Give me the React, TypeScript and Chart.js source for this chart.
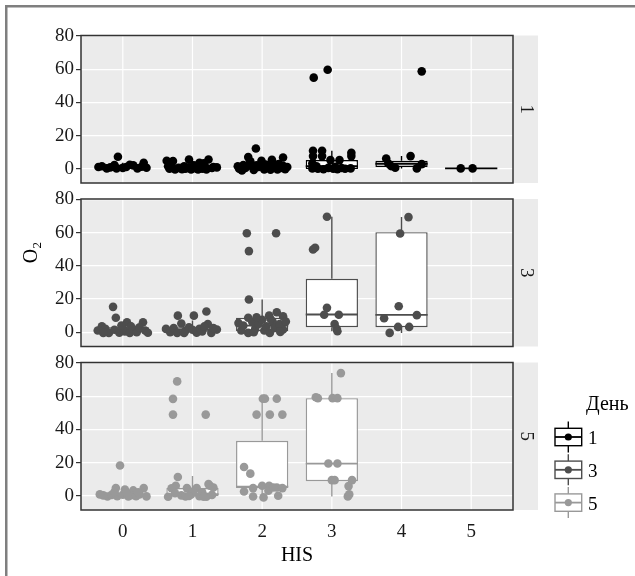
import React, { useEffect, useRef } from 'react';
import { Chart, registerables } from 'chart.js';

Chart.register(...registerables);

const FONT = "'Liberation Serif', 'DejaVu Serif', serif";

const HIS_LABELS = ['0', '1', '2', '3', '4', '5'];
const DAY_LABELS = ['1', '3', '5'];
const DAY_COLORS = ['#000000', '#4d4d4d', '#999999'];
const Y_TICKS = [0, 20, 40, 60, 80];
const X_TITLE = 'HIS';
const Y_TITLE_MAIN = 'O';
const Y_TITLE_SUB = '2';
const LEGEND_TITLE = 'День';

// panel value range
const PANEL_MIN = -8.6;
const PANEL_MAX = 80.3;

// box stats: [his, q1, median, q3, whiskerLow, whiskerHigh]
const day1Boxes = [
  [0, 0, 1, 2.5, 0, 3.6],
  [1, -0.3, 0.4, 1.6, -0.5, 4.8],
  [2, -0.4, 1, 3, -1, 7],
  [3, -0.2, 1.5, 5.2, -0.3, 10.8],
  [4, 1.1, 3, 4.8, 0.2, 7.6],
  [5, 0, 0.2, 0.4, 0.2, 0.2],
];
const day3Boxes = [
  [0, 0, 1, 3, -0.5, 6],
  [1, 0, 1.5, 3, -0.5, 7],
  [2, 0.6, 4, 8.7, -0.5, 19.7],
  [3, 3, 10.7, 32.2, 0.6, 69.6],
  [4, 3, 10.5, 60.3, -0.4, 69.4],
];
const day5Boxes = [
  [0, 0, 0.3, 1, -0.5, 2.2],
  [1, -0.3, 1, 4.6, -0.6, 11.9],
  [2, 4.6, 5.5, 33.1, -1, 58.5],
  [3, 8.8, 19.4, 58.8, -0.4, 73.9],
];

// jittered points: [his, jitter, value]
const day1Points = [
  [0, -0.23, 0.2], [0, -0.07, 7.2], [0, -0.09, 0.2], [0, 0.21, 0.2], [0, 0.3, 3.6], [0, -0.3, 1.5], [0, 0.05, 1], [0, 0.15, 2],
  [0, -0.35, 1], [0, -0.18, 0.8], [0, -0.12, 2.2], [0, 0, 0.5], [0, 0.1, 2.4], [0, 0.27, 1.2], [0, 0.34, 0.6],
  [1, -0.37, 4.8], [1, -0.28, 4.6], [1, -0.05, 5.6], [1, 0.1, 3.6], [1, 0.23, 5.6], [1, 0.16, 3.2], [1, 0.28, 0.4], [1, -0.33, 0],
  [1, -0.25, -0.5], [1, -0.2, 0.5], [1, -0.15, -0.3], [1, -0.1, 0], [1, -0.02, -0.5], [1, 0.04, 0.3], [1, 0.08, -0.4], [1, 0.14, 0],
  [1, 0.2, -0.5], [1, 0.3, 1], [1, -0.35, 1.5], [1, 0.02, 2],
  [1, -0.3, 1.2], [1, -0.12, 1.4], [1, 0.06, 1.2], [1, 0.18, 1.5], [1, 0.35, 0.8], [1, -0.05, 0.8],
  [2, -0.09, 12.2], [2, -0.2, 7], [2, -0.17, 4.5], [2, -0.01, 4.8], [2, 0.14, 5.4], [2, 0.3, 6.8], [2, -0.27, 2.2], [2, -0.33, 0],
  [2, -0.29, -1], [2, -0.24, 0.5], [2, -0.12, -0.8], [2, -0.05, 1], [2, 0.03, -0.5], [2, 0.08, 0.8], [2, 0.12, -0.6], [2, 0.18, 1.2],
  [2, 0.22, -0.4], [2, 0.27, 0.5], [2, 0.33, -0.3], [2, -0.15, 2], [2, 0.05, 2.5], [2, 0.24, 2.8],
  [2, -0.35, 1.5], [2, -0.2, 1.8], [2, -0.08, 2], [2, 0.1, 2.2], [2, 0.2, 2.4], [2, 0.3, 1.8], [2, 0.36, 1],
  [3, -0.26, 54.9], [3, -0.06, 59.7], [3, -0.27, 10.8], [3, -0.14, 10.8], [3, 0.28, 9.6], [3, -0.27, 7.6], [3, -0.14, 7.6], [3, 0.28, 7.6],
  [3, -0.02, 5.2], [3, 0.11, 5.2], [3, 0.27, 0.2], [3, -0.28, 3.2], [3, -0.28, 0.2], [3, -0.2, 0], [3, -0.12, -0.3], [3, -0.05, 0.5],
  [3, 0.02, 0], [3, 0.08, -0.3], [3, 0.14, 0.4], [3, 0.19, 0], [3, -0.22, 1.5], [3, 0.05, 1.2],
  [4, -0.22, 6.2], [4, -0.19, 3.2], [4, -0.09, 0.6], [4, 0.13, 7.6], [4, 0.22, 0.2], [4, 0.29, 2.8], [4, 0.29, 58.7], [4, -0.15, 1.6],
  [5, -0.15, 0.2], [5, 0.02, 0.2],
];
const day3Points = [
  [0, -0.14, 15.3], [0, -0.1, 8.7], [0, 0.06, 6], [0, 0.29, 6], [0, -0.3, 3.6], [0, -0.36, 1], [0, -0.25, 2], [0, -0.2, -0.5],
  [0, -0.12, 1.5], [0, -0.05, -0.3], [0, 0, 2.5], [0, 0.03, 0.5], [0, 0.1, -0.5], [0, 0.15, 1.8], [0, 0.2, 0], [0, 0.24, 3],
  [0, 0.32, 1], [0, 0.36, -0.3], [0, -0.28, -0.4], [0, 0.12, 3.5], [0, -0.02, 4],
  [1, -0.21, 10], [1, 0.02, 10], [1, 0.2, 12.5], [1, -0.16, 5.3], [1, 0.22, 5], [1, 0.35, 1.6], [1, -0.38, 2], [1, -0.32, 0],
  [1, -0.27, 2.5], [1, -0.22, -0.4], [1, -0.1, 1], [1, -0.05, 3], [1, 0.06, -0.3], [1, 0.1, 2], [1, 0.14, 0.5], [1, 0.27, -0.4],
  [1, 0.3, 2.5], [1, -0.12, -0.5], [1, 0, 1.5], [1, 0.17, 3.5],
  [2, -0.22, 59.7], [2, -0.19, 48.9], [2, 0.2, 59.7], [2, -0.19, 19.7], [2, 0.21, 12], [2, -0.2, 8.7], [2, 0.1, 10], [2, 0.3, 9.6],
  [2, -0.2, -0.4], [2, 0.11, -0.5], [2, 0.3, 1.6], [2, -0.3, 1], [2, -0.27, 4], [2, -0.14, 6], [2, -0.1, 2], [2, -0.05, 5],
  [2, 0, 7.5], [2, 0.03, 1], [2, 0.06, 3.5], [2, 0.15, 6.5], [2, 0.18, 2.5], [2, 0.25, 5], [2, 0.34, 6.5], [2, -0.34, 5.5],
  [2, -0.08, 9], [2, 0.12, 8], [2, 0.26, 0.2], [2, -0.12, 0],
  [3, -0.07, 69.6], [3, -0.27, 49.9], [3, -0.24, 50.9], [3, -0.07, 14.7], [3, -0.11, 10.5], [3, 0.1, 10.5], [3, 0.04, 5], [3, 0.07, 2], [3, 0.08, 0.6],
  [4, 0.1, 69.4], [4, -0.02, 59.5], [4, -0.04, 15.7], [4, -0.25, 8.4], [4, 0.22, 10.3], [4, -0.17, -0.4], [4, -0.05, 3.2], [4, 0.11, 3.2],
];
const day5Points = [
  [0, -0.04, 18.2], [0, -0.1, 4.6], [0, 0.03, 3.8], [0, 0.15, 3.2], [0, 0.3, 4.6], [0, -0.28, 0.2], [0, -0.22, -0.5], [0, -0.16, 0.5],
  [0, -0.08, -0.3], [0, 0, 0.6], [0, 0.08, -0.5], [0, 0.12, 0.3], [0, 0.19, -0.3], [0, 0.24, 0.8], [0, 0.34, -0.4], [0, -0.33, 0.8],
  [0, 0.05, 1.8], [0, -0.12, 2.2], [0, 0.22, 2],
  [1, -0.22, 68.9], [1, -0.28, 58.4], [1, -0.28, 48.9], [1, 0.19, 48.9], [1, -0.21, 11.3], [1, -0.24, 6], [1, 0.25, 6], [1, -0.3, 4.5],
  [1, 0.23, 7], [1, 0.3, 5], [1, -0.08, 4.6], [1, 0.06, 4.6], [1, -0.16, 0.2], [1, -0.35, -0.6], [1, 0.2, -0.6], [1, -0.1, -0.5],
  [1, -0.02, 0.8], [1, 0.1, -0.3], [1, 0.14, 2], [1, -0.25, 1.5], [1, 0.01, 2.5], [1, 0.28, 0.5], [1, -0.05, -0.2], [1, 0.16, -0.6],
  [2, 0.01, 58.5], [2, 0.04, 58.5], [2, 0.21, 58.5], [2, -0.08, 48.9], [2, 0.11, 48.9], [2, 0.29, 48.9], [2, -0.26, 17.3], [2, -0.17, 13.3],
  [2, -0.26, 2.6], [2, -0.13, 4.6], [2, -0.13, -0.5], [2, 0, 6], [2, 0.02, -1], [2, 0.1, 6], [2, 0.09, 3], [2, 0.21, 5],
  [2, 0.23, 0], [2, 0.29, 4.6], [2, 0.16, 5],
  [3, 0.13, 73.9], [3, -0.23, 59.4], [3, -0.2, 58.8], [3, 0.01, 58.8], [3, 0.08, 58.8], [3, -0.05, 19.4], [3, 0.08, 19.4], [3, 0, 9.4],
  [3, 0.04, 9.4], [3, 0.29, 9.4], [3, 0.24, 5.8], [3, 0.23, -0.4], [3, 0.25, 0.8],
];

const FACETS = [
  { id: 'y1', boxes: day1Boxes, points: day1Points },
  { id: 'y3', boxes: day3Boxes, points: day3Points },
  { id: 'y5', boxes: day5Boxes, points: day5Points },
];

const W = 635;
const H = 576;
const GAP_PX = 8;
const PANEL_PX = 147.5;
const GAP_UNITS = ((PANEL_MAX - PANEL_MIN) * GAP_PX) / PANEL_PX;

function panelRect(chart: any, id: string) {
  const ys = chart.scales[id];
  const ca = chart.chartArea;
  const top = ys.getPixelForValue(PANEL_MAX);
  const bottom = ys.getPixelForValue(PANEL_MIN);
  return { left: ca.left, right: ca.right, top, bottom };
}

const facetPlugin = {
  id: 'facetPlugin',
  beforeDraw(chart: any) {
    const ctx = chart.ctx;
    const xs = chart.scales.x;
    ctx.save();
    ctx.strokeStyle = '#7f7f7f';
    ctx.lineWidth = 2.5;
    ctx.strokeRect(6.25, 6.25, W + 50, H + 50);
    FACETS.forEach((f) => {
      const r = panelRect(chart, f.id);
      ctx.fillStyle = '#ebebeb';
      ctx.fillRect(r.left, r.top, r.right - r.left, r.bottom - r.top);
      ctx.fillRect(r.right, r.top, 25, r.bottom - r.top);
      ctx.strokeStyle = '#ffffff';
      ctx.lineWidth = 1.2;
      HIS_LABELS.forEach((_, i) => {
        const px = xs.getPixelForValue(i);
        ctx.beginPath();
        ctx.moveTo(px, r.top);
        ctx.lineTo(px, r.bottom);
        ctx.stroke();
      });
    });
    ctx.restore();
  },
  beforeDatasetsDraw(chart: any) {
    const ctx = chart.ctx;
    const xs = chart.scales.x;
    ctx.save();
    FACETS.forEach((f, di) => {
      const ys = chart.scales[f.id];
      ctx.strokeStyle = DAY_COLORS[di];
      ctx.lineWidth = 1.4;
      f.boxes.forEach(([h, q1, , q3, lo, hi]) => {
        const px = xs.getPixelForValue(h);
        ctx.beginPath();
        ctx.moveTo(px, ys.getPixelForValue(q3));
        ctx.lineTo(px, ys.getPixelForValue(hi));
        ctx.moveTo(px, ys.getPixelForValue(q1));
        ctx.lineTo(px, ys.getPixelForValue(lo));
        ctx.stroke();
      });
    });
    ctx.restore();
  },
  afterDatasetDraw(chart: any, args: any) {
    const ds = chart.data.datasets[args.index];
    if (ds.type !== 'bar') return;
    const f = FACETS[ds.facet];
    const ctx = chart.ctx;
    const xs = chart.scales.x;
    const ys = chart.scales[f.id];
    const half = (xs.getPixelForValue(1) - xs.getPixelForValue(0)) * 0.375;
    ctx.save();
    ctx.strokeStyle = DAY_COLORS[ds.facet];
    ctx.lineWidth = 1.8;
    f.boxes.forEach(([h, , med]) => {
      const px = xs.getPixelForValue(h);
      const py = ys.getPixelForValue(med);
      ctx.beginPath();
      ctx.moveTo(px - half, py);
      ctx.lineTo(px + half, py);
      ctx.stroke();
    });
    ctx.restore();
  },
  afterDraw(chart: any) {
    const ctx = chart.ctx;
    ctx.save();
    FACETS.forEach((f, di) => {
      const r = panelRect(chart, f.id);
      ctx.strokeStyle = '#333333';
      ctx.lineWidth = 1.5;
      ctx.strokeRect(r.left, r.top, r.right - r.left, r.bottom - r.top);
      ctx.save();
      ctx.translate(r.right + 12.5, (r.top + r.bottom) / 2);
      ctx.rotate(Math.PI / 2);
      ctx.fillStyle = '#1a1a1a';
      ctx.font = `19px ${FONT}`;
      ctx.textAlign = 'center';
      ctx.textBaseline = 'middle';
      ctx.fillText(DAY_LABELS[di], 0, 0);
      ctx.restore();
    });
    const ca = chart.chartArea;
    ctx.fillStyle = '#000000';
    ctx.font = `20px ${FONT}`;
    ctx.textAlign = 'center';
    ctx.textBaseline = 'alphabetic';
    ctx.fillText(X_TITLE, (ca.left + ca.right) / 2, 560.5);
    ctx.save();
    ctx.translate(37, 256);
    ctx.rotate(-Math.PI / 2);
    ctx.font = `20px ${FONT}`;
    ctx.textAlign = 'center';
    ctx.textBaseline = 'alphabetic';
    ctx.fillText(Y_TITLE_MAIN, 0, 0);
    ctx.font = `13px ${FONT}`;
    ctx.textAlign = 'left';
    ctx.fillText(Y_TITLE_SUB, 7.5, 4);
    ctx.restore();
    ctx.font = `20px ${FONT}`;
    ctx.textAlign = 'left';
    ctx.textBaseline = 'alphabetic';
    ctx.fillStyle = '#000000';
    ctx.fillText(LEGEND_TITLE, 586, 410);
    DAY_LABELS.forEach((lab, i) => {
      const cy = 437 + i * 32.8;
      const cx = 568.3;
      const col = DAY_COLORS[i];
      ctx.strokeStyle = col;
      ctx.lineWidth = 1.4;
      ctx.beginPath();
      ctx.moveTo(cx, cy - 15.5);
      ctx.lineTo(cx, cy - 8.7);
      ctx.moveTo(cx, cy + 8.7);
      ctx.lineTo(cx, cy + 15.5);
      ctx.stroke();
      ctx.fillStyle = '#ffffff';
      ctx.fillRect(555, cy - 8.7, 26.7, 17.4);
      ctx.strokeRect(555, cy - 8.7, 26.7, 17.4);
      ctx.lineWidth = 1.8;
      ctx.beginPath();
      ctx.moveTo(555, cy);
      ctx.lineTo(581.7, cy);
      ctx.stroke();
      ctx.fillStyle = col;
      ctx.beginPath();
      ctx.arc(cx, cy, 3.6, 0, Math.PI * 2);
      ctx.fill();
      ctx.fillStyle = '#000000';
      ctx.font = `19px ${FONT}`;
      ctx.textBaseline = 'middle';
      ctx.fillText(lab, 588, cy + 2);
    });
    ctx.restore();
  },
};

function yScale() {
  return {
    type: 'linear',
    position: 'left',
    stack: 'facet',
    stackWeight: 1,
    offset: false,
    min: PANEL_MIN - GAP_UNITS,
    max: PANEL_MAX + GAP_UNITS,
    afterBuildTicks: (s: any) => {
      s.ticks = Y_TICKS.map((v) => ({ value: v }));
    },
    afterFit: (s: any) => {
      s.width = 81;
    },
    grid: { color: '#ffffff', lineWidth: 1.2, tickColor: '#333333', tickLength: 5, drawTicks: true },
    border: { display: false },
    ticks: { font: { family: FONT, size: 19 }, color: '#1a1a1a', padding: 2, autoSkip: false },
  };
}

export default function App() {
  const ref = useRef<HTMLCanvasElement>(null);
  useEffect(() => {
    if (!ref.current) return;
    const datasets: any[] = [];
    FACETS.forEach((f, di) => {
      datasets.push({
        type: 'bar',
        facet: di,
        yAxisID: f.id,
        xAxisID: 'x',
        data: f.boxes.map(([h, q1, , q3]) => ({ x: h, y: [q1, q3] })),
        backgroundColor: '#ffffff',
        borderColor: DAY_COLORS[di],
        borderWidth: 1.4,
        borderSkipped: false,
        grouped: false,
        barPercentage: 0.75,
        categoryPercentage: 1,
        maxBarThickness: 52.3,
        order: 2,
      });
    });
    FACETS.forEach((f, di) => {
      datasets.push({
        type: 'scatter',
        facet: di,
        yAxisID: f.id,
        xAxisID: 'x',
        data: f.points.map(([h, j, v]) => ({ x: h + j, y: v })),
        pointRadius: 4.3,
        pointBackgroundColor: DAY_COLORS[di],
        pointBorderWidth: 0,
        order: 1,
      });
    });
    const chart = new Chart(ref.current, {
      type: 'scatter',
      data: { datasets },
      options: {
        animation: false,
        responsive: false,
        devicePixelRatio: 1,
        events: [],
        layout: { padding: { left: 0, right: 122, top: 27.5, bottom: 0 } },
        plugins: { legend: { display: false }, tooltip: { enabled: false } },
        scales: {
          x: {
            type: 'linear',
            position: 'bottom',
            offset: false,
            min: -0.6,
            max: 5.6,
            afterBuildTicks: (s: any) => {
              s.ticks = HIS_LABELS.map((_, i) => ({ value: i }));
            },
            afterFit: (s: any) => {
              s.height = 58;
            },
            grid: { display: false, drawTicks: false, tickLength: 0, offset: false },
            border: { display: false },
            ticks: {
              font: { family: FONT, size: 19 },
              color: '#1a1a1a',
              padding: 3,
              maxRotation: 0,
              autoSkip: false,
              callback: (_v: any, i: number) => HIS_LABELS[i],
            },
          },
          y5: yScale(),
          y3: yScale(),
          y1: yScale(),
        } as any,
      },
      plugins: [facetPlugin],
    } as any);
    return () => chart.destroy();
  }, []);
  return (
    <div style={{ position: 'absolute', left: 0, top: 0, width: W, height: H }}>
      <canvas ref={ref} width={W} height={H} style={{ width: W, height: H }} />
    </div>
  );
}
